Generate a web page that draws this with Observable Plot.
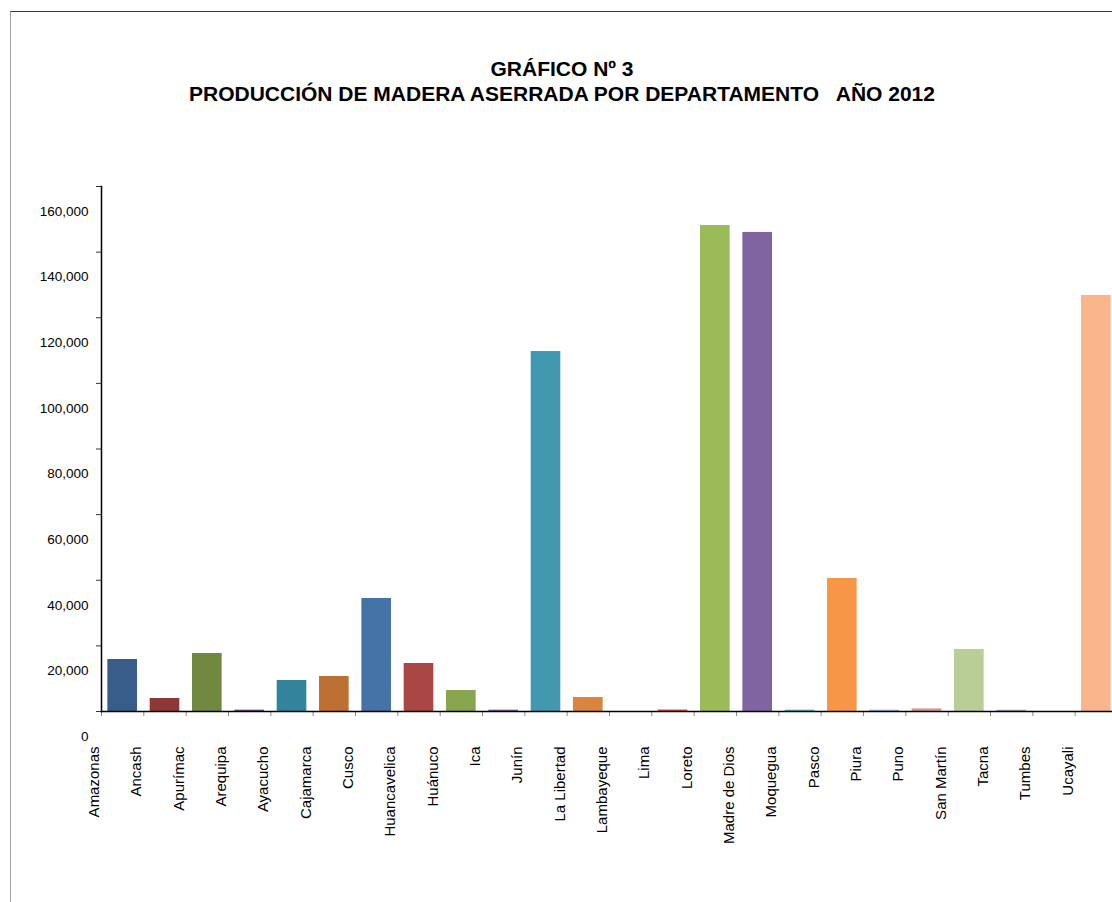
<!DOCTYPE html>
<html><head><meta charset="utf-8">
<script src="https://cdn.jsdelivr.net/npm/d3@7"></script>
<script src="https://cdn.jsdelivr.net/npm/@observablehq/plot@0.6"></script>
<style>
body{margin:0;background:#fff;width:1112px;height:902px;overflow:hidden;position:relative;font-family:"Liberation Sans",Arial,sans-serif;}
#frame{position:absolute;left:10px;top:11px;width:1200px;height:1000px;border-top:1px solid #3a3a3a;border-left:1px solid #a0a0a0;}
.t{position:absolute;left:0;width:1124px;text-align:center;font-weight:bold;font-size:21px;line-height:24px;color:#000;white-space:pre;}
#chart{position:absolute;top:120px;left:0;}
</style></head>
<body>
<div id="frame"></div>
<div class="t" style="top:57px">GRÁFICO Nº 3</div>
<div class="t" style="top:82px">PRODUCCIÓN DE MADERA ASERRADA POR DEPARTAMENTO   AÑO 2012</div>
<div id="chart"></div>
<script>
const departamentos = ["Amazonas","Ancash","Apurímac","Arequipa","Ayacucho","Cajamarca","Cusco","Huancavelica","Huánuco","Ica","Junín","La Libertad","Lambayeque","Lima","Loreto","Madre de Dios","Moquegua","Pasco","Piura","Puno","San Martín","Tacna","Tumbes","Ucayali"];
const produccion = [15850, 3960, 17680, 400, 9450, 10670, 34440, 14630, 6400, 400, 109700, 4270, 0, 450, 148100, 146000, 400, 40530, 400, 800, 18900, 400, 0, 126800];
const colores = ["#385D8A","#8C3836","#71893F","#5C4776","#31849B","#BE7033","#4572A7","#AA4643","#89A54E","#71588F","#4198AF","#DB843D","#93A9CF","#C0504D","#9BBB59","#8064A2","#4BACC6","#F79646","#95B3D7","#D99694","#B9CD96","#B3A2C7","#93CDDD","#F9B58B"];
const yTicks = [0, 20000, 40000, 60000, 80000, 100000, 120000, 140000, 160000];

const data = departamentos.map((d, i) => ({departamento: d, valor: produccion[i], color: colores[i]}));
const x0 = 101, x1 = 1117;
const step = (x1 - x0) / departamentos.length;
const fmt = d3.format(",");

const chart = Plot.plot({
  width: 1112, height: 782,
  marginTop: 66, marginBottom: 191, marginLeft: 101, marginRight: 0,
  style: {fontFamily: '"Liberation Sans", Arial, sans-serif', color: "#000", background: "transparent", overflow: "visible"},
  x: {domain: departamentos, range: [x0, x1], paddingInner: 0.3, paddingOuter: 0.15, round: false},
  y: {domain: [0, 160000]},
  color: {type: "identity"},
  marks: [
    Plot.barY(data, {x: "departamento", y: "valor", fill: "color"}),
    Plot.axisX({tickSize: 5, tickFormat: () => "", dx: -step / 2, stroke: "#888", label: null}),
    Plot.text(departamentos, {x: d => d, text: d => d, frameAnchor: "bottom", rotate: -90, textAnchor: "end", dx: -step / 2 - 2.5, dy: 35, fontSize: 15, fill: "#000"}),
    Plot.axisY({ticks: yTicks, tickSize: 5, tickFormat: () => "", stroke: "#333", label: null}),
    Plot.text(yTicks, {y: d => d, text: d => fmt(d), frameAnchor: "left", textAnchor: "end", dx: -13, dy: 25, fontSize: 13.5, fill: "#000"}),
    Plot.frame({anchor: "left", stroke: "#000", strokeWidth: 1.5}),
    Plot.frame({anchor: "bottom", stroke: "#000", strokeWidth: 1.5})
  ]
});
document.getElementById("chart").appendChild(chart);
</script>
</body></html>
